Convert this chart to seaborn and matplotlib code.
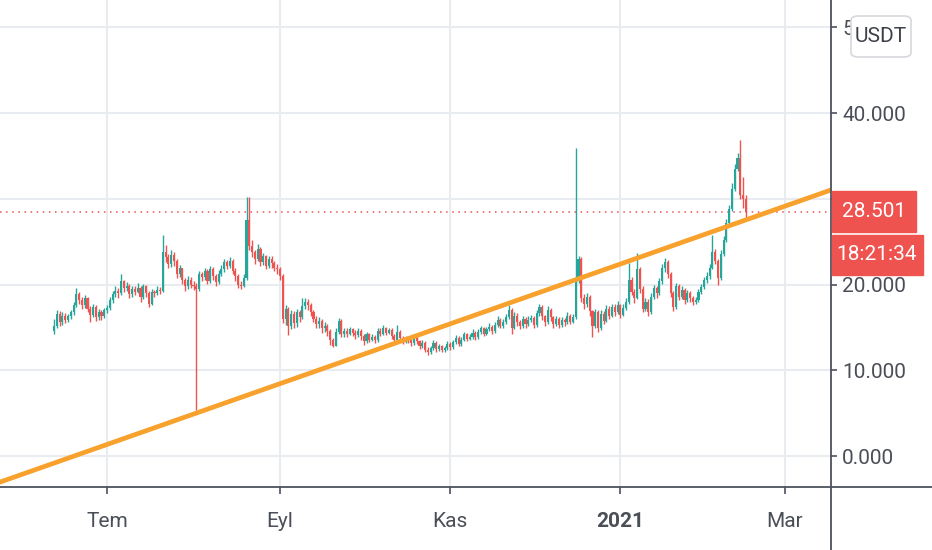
import pandas as pd
import seaborn as sns
import matplotlib
matplotlib.use("Agg")
import matplotlib.pyplot as plt
import matplotlib.dates as mdates
from matplotlib.lines import Line2D
from matplotlib.patches import Rectangle, FancyBboxPatch

# daily candles, first day 2020-06-12, open of each day = close of the previous one
start_day = "2020-06-12"
first_open = 14.6
closes = [
    15.2, 16.6, 15.6, 16.4, 15.9, 16.3, 16.8, 17.6, 18.9, 18.2,
    17.6, 18.4, 17.2, 16.5, 17.4, 16.2, 16.8, 16.4, 17.0, 17.3,
    18.2, 18.9, 19.3, 19.0, 20.4, 19.6, 19.9, 18.9, 19.5, 19.2,
    19.6, 18.6, 19.8, 19.0, 17.8, 19.2, 19.0, 19.4, 19.3, 23.8,
    23.2, 22.4, 23.5, 22.8, 21.2, 21.9, 20.5, 19.8, 20.6, 20.0,
    19.8, 19.5, 21.2, 20.9, 21.6, 20.4, 21.8, 21.0, 20.3, 21.3,
    21.8, 22.6, 22.2, 22.8, 21.6, 21.0, 20.0, 19.9, 20.8, 27.5,
    24.5, 23.8, 23.0, 24.2, 22.6, 23.3, 22.2, 23.0, 22.5, 22.0,
    21.8, 21.0, 16.0, 17.2, 15.2, 16.6, 15.5, 16.8, 16.2, 17.5,
    18.0, 17.6, 16.8, 16.0, 15.4, 15.8, 14.9, 15.2, 14.6, 13.5,
    12.9, 14.5, 15.8, 14.2, 14.6, 14.3, 14.8, 14.4, 14.1, 14.6,
    14.0, 13.4, 14.2, 13.6, 13.9, 13.5, 14.6, 14.3, 14.9, 14.4,
    14.7, 14.0, 13.6, 14.5, 13.8, 13.4, 13.7, 13.5, 13.2, 13.9,
    13.4, 12.8, 13.2, 12.4, 12.1, 12.6, 13.2, 12.5, 12.8, 12.4,
    12.6, 13.1, 12.7, 13.3, 13.8, 13.1, 13.6, 14.2, 13.7, 13.9,
    14.4, 13.9, 14.5, 14.9, 14.3, 14.8, 15.1, 14.6, 15.3, 15.9,
    15.2, 15.6, 16.2, 17.1, 15.0, 16.4, 15.6, 15.2, 16.0, 15.4,
    15.9, 16.1, 15.3, 16.7, 17.4, 16.3, 15.6, 17.1, 16.2, 15.4,
    16.0, 15.3, 15.9, 15.6, 16.4, 15.7, 16.2, 20.5, 23.0, 18.5,
    17.8, 18.6, 16.9, 15.2, 16.8, 14.9, 16.6, 15.8, 17.2, 16.4,
    17.4, 16.8, 17.6, 16.5, 17.3, 18.0, 20.6, 19.2, 18.5, 21.8,
    19.5, 17.2, 18.0, 16.8, 18.6, 19.6, 19.0, 20.4, 21.9, 22.6,
    21.2, 19.0, 17.4, 19.8, 18.6, 19.4, 18.2, 19.0, 18.4, 18.0,
    18.2, 19.1, 19.7, 20.5, 21.0, 22.0, 23.8, 22.8, 20.8, 23.6,
    25.2, 27.2, 28.8, 31.2, 33.5, 34.8, 30.5, 30.0, 28.501,
]
highs = [
    16.0, 17.0, 16.9, 16.8, 16.7, 16.6, 17.1, 18.0, 19.6, 19.2,
    18.6, 18.8, 18.6, 17.5, 17.8, 17.6, 17.2, 17.0, 17.3, 17.6,
    18.6, 19.3, 19.8, 19.6, 21.3, 20.6, 20.3, 20.1, 19.9, 19.8,
    20.2, 19.9, 20.1, 20.0, 19.3, 19.5, 19.4, 19.8, 19.7, 25.8,
    24.6, 23.6, 24.0, 23.8, 23.0, 22.3, 22.0, 20.8, 21.0, 20.9,
    20.4, 20.2, 21.6, 21.5, 22.0, 21.8, 22.2, 22.1, 21.3, 21.7,
    22.3, 23.0, 22.9, 23.2, 23.0, 21.9, 21.2, 20.4, 21.2, 30.2,
    30.2, 25.2, 24.1, 24.7, 24.4, 23.7, 23.5, 23.4, 23.3, 22.8,
    22.4, 22.1, 21.2, 17.6, 17.4, 17.0, 16.9, 17.2, 17.1, 18.5,
    18.4, 18.3, 17.9, 17.1, 16.3, 16.2, 16.0, 15.6, 15.4, 14.8,
    13.8, 14.9, 16.1, 16.0, 15.0, 14.9, 15.1, 15.0, 14.7, 14.9,
    14.8, 14.2, 14.5, 14.4, 14.2, 14.1, 14.9, 14.9, 15.3, 15.1,
    15.0, 14.9, 14.2, 15.3, 14.7, 14.0, 14.0, 13.9, 13.7, 14.2,
    14.1, 13.6, 13.5, 13.4, 12.7, 12.9, 13.5, 13.4, 13.1, 13.0,
    12.9, 13.4, 13.3, 13.6, 14.1, 14.0, 13.9, 14.5, 14.4, 14.2,
    14.8, 14.6, 14.8, 15.2, 15.1, 15.1, 15.5, 15.3, 15.6, 16.3,
    16.1, 16.0, 16.6, 17.6, 17.3, 16.8, 16.7, 15.9, 16.4, 16.2,
    16.3, 16.5, 16.3, 17.0, 17.8, 17.6, 16.5, 17.5, 17.3, 16.4,
    16.4, 16.2, 16.2, 16.1, 16.8, 16.6, 16.6, 35.9, 23.4, 23.2,
    18.9, 19.0, 18.8, 17.1, 17.2, 17.0, 17.0, 16.9, 17.6, 17.5,
    17.8, 17.7, 18.1, 17.8, 17.7, 18.4, 22.5, 20.9, 19.5, 23.7,
    22.1, 19.8, 18.5, 18.3, 19.0, 20.0, 19.9, 20.8, 22.4, 23.1,
    22.9, 21.5, 19.3, 20.2, 20.1, 19.8, 19.6, 19.4, 19.3, 18.7,
    18.6, 19.5, 20.1, 20.9, 21.5, 22.4, 25.8, 24.2, 23.0, 24.0,
    25.7, 27.7, 29.3, 31.8, 34.1, 35.4, 36.9, 32.6, 30.4,
]
lows = [
    14.3, 14.9, 15.2, 15.3, 15.5, 15.6, 16.0, 16.5, 17.4, 17.8,
    17.2, 17.3, 16.8, 15.7, 16.2, 15.8, 15.9, 15.9, 16.1, 16.7,
    17.0, 17.9, 18.6, 18.5, 18.8, 19.2, 19.3, 18.4, 18.6, 18.8,
    19.0, 18.0, 18.3, 18.6, 17.4, 17.6, 18.6, 18.8, 18.9, 19.1,
    22.6, 21.9, 22.1, 22.2, 20.8, 20.9, 20.1, 19.3, 19.5, 19.6,
    19.4, 5.4, 19.3, 20.4, 20.6, 20.1, 20.2, 20.6, 19.9, 20.1,
    21.0, 21.5, 21.8, 21.9, 21.2, 20.4, 19.6, 19.5, 19.7, 20.6,
    24.0, 23.2, 22.4, 22.8, 22.2, 22.3, 21.8, 21.9, 22.0, 21.6,
    21.3, 20.6, 15.5, 15.3, 14.1, 14.8, 14.9, 15.1, 15.7, 16.0,
    17.2, 17.1, 16.4, 15.6, 14.9, 15.0, 14.4, 14.5, 14.0, 13.0,
    12.7, 12.8, 14.3, 13.9, 13.9, 13.9, 14.1, 14.0, 13.7, 13.9,
    13.6, 13.0, 13.2, 13.3, 13.4, 13.2, 13.3, 14.0, 14.1, 14.1,
    14.2, 13.7, 13.3, 13.4, 13.5, 13.1, 13.2, 13.2, 12.9, 13.0,
    13.1, 12.5, 12.6, 12.1, 11.8, 11.9, 12.4, 12.2, 12.3, 12.1,
    12.2, 12.4, 12.4, 12.5, 13.1, 12.8, 12.9, 13.4, 13.4, 13.5,
    13.7, 13.6, 13.7, 14.3, 14.0, 14.1, 14.6, 14.3, 14.4, 15.1,
    14.9, 15.0, 15.4, 16.0, 14.3, 14.8, 15.2, 14.8, 15.0, 15.0,
    15.2, 15.6, 14.9, 15.1, 16.4, 15.9, 15.2, 15.4, 15.8, 15.0,
    15.2, 14.9, 15.1, 15.2, 15.4, 15.4, 15.5, 16.0, 20.2, 18.0,
    17.2, 17.4, 16.4, 13.9, 15.0, 14.5, 14.7, 15.4, 15.6, 16.0,
    16.2, 16.4, 16.6, 16.1, 16.3, 17.0, 17.8, 18.8, 17.9, 18.3,
    19.0, 16.8, 16.9, 16.3, 16.6, 18.3, 18.5, 18.8, 20.1, 21.5,
    20.8, 18.6, 16.9, 17.2, 18.2, 18.3, 17.8, 18.0, 18.0, 17.6,
    17.7, 18.0, 18.9, 19.5, 20.2, 20.7, 21.8, 22.4, 20.0, 20.6,
    23.4, 25.0, 27.0, 28.6, 30.9, 33.2, 30.0, 28.9, 27.6,
]

trend_dates = ["2020-05-23", "2021-03-18"]
trend_vals = [-3.1, 31.1]

last_price = 28.501
countdown = "18:21:34"
currency = "USDT"

price_ticks = [0, 10, 20, 30, 40, 50]
month_ticks = ["2020-07-01", "2020-09-01", "2020-11-01", "2021-01-01", "2021-03-01"]
month_labels = ["Tem", "Eyl", "Kas", "2021", "Mar"]

UP = "#26a69a"
DOWN = "#ef5350"
GRID = "#e8ecf0"
AXIS = "#4c525e"
TXT = "#4a4e57"

opens = [first_open] + closes[:-1]
df = pd.DataFrame({
    "date": pd.date_range(start_day, periods=len(closes), freq="D"),
    "open": opens, "high": highs, "low": lows, "close": closes,
})
df["x"] = mdates.date2num(df["date"])
df["color"] = [UP if c >= o else DOWN for o, c in zip(df["open"], df["close"])]

sns.set_style("white")
plt.rcParams["font.family"] = ["Roboto", "DejaVu Sans"]

W, H = 932, 550
fig = plt.figure(figsize=(W / 100, H / 100), dpi=100)
ax = fig.add_axes([0, 63 / H, 831 / W, 487 / H])

# candles
ax.vlines(df["x"], df["low"], df["high"], colors=df["color"], lw=1.0, zorder=3)
ax.bar(df["x"], df["close"] - df["open"], bottom=df["open"], width=0.75,
       color=df["color"], linewidth=0, zorder=3)

# trend line
tl = pd.DataFrame({"date": mdates.date2num(pd.to_datetime(trend_dates)), "v": trend_vals})
sns.lineplot(data=tl, x="date", y="v", ax=ax, color="#f8a12c", lw=3.4,
             zorder=5, solid_capstyle="butt")

ax.axhline(last_price, color=DOWN, ls=(0, (1, 3)), lw=1.1, zorder=2)

ax.set_xlim(mdates.date2num(pd.Timestamp("2020-05-23 15:00")),
            mdates.date2num(pd.Timestamp("2021-03-17 12:00")))
ax.set_ylim(-3.6, 53.2)

ax.set_yticks(price_ticks)
ax.set_yticklabels([f"{v:.3f}" for v in price_ticks])
ax.yaxis.tick_right()
ax.set_xticks(mdates.date2num(pd.to_datetime(month_ticks)))
ax.set_xticklabels(month_labels)
for lab in ax.get_xticklabels():
    if lab.get_text().isdigit():
        lab.set_fontweight("bold")

ax.grid(True, color=GRID, lw=1.5, zorder=0)
ax.set_axisbelow(True)
ax.set_xlabel("")
ax.set_ylabel("")
for s in ax.spines.values():
    s.set_visible(False)
ax.tick_params(axis="y", right=True, left=False, length=4, width=1.2, color=AXIS,
               labelsize=15, labelcolor=TXT, pad=4)
ax.tick_params(axis="x", bottom=True, length=5, width=1.2, color=AXIS,
               labelsize=15, labelcolor=TXT, pad=13)

# price scale / time scale separators
fig.add_artist(Line2D([831 / W, 831 / W], [0, 1], transform=fig.transFigure,
                      color=AXIS, lw=1.3))
fig.add_artist(Line2D([0, 1], [63 / H, 63 / H], transform=fig.transFigure,
                      color=AXIS, lw=1.3))

# last price and countdown labels (they sit over the 30.000 label, as on the chart)
fig.canvas.draw()
py = ax.transData.transform((0, last_price))[1] / H
fig.add_artist(Rectangle((832 / W, py - 20 / H), 84 / W, 41 / H,
                         transform=fig.transFigure, color=DOWN, zorder=6))
fig.text(874 / W, py, f"{last_price:.3f}", color="white", fontsize=15,
         ha="center", va="center", zorder=7)
fig.add_artist(Rectangle((832 / W, py - 63 / H), 91 / W, 40 / H,
                         transform=fig.transFigure, color=DOWN, zorder=6))
fig.text(877 / W, py - 43 / H, countdown, color="white", fontsize=15,
         ha="center", va="center", zorder=7)

# currency badge, drawn over the top price label
fig.add_artist(FancyBboxPatch((851 / W, 1 - 57 / H), 60 / W, 41 / H,
                              boxstyle="round,pad=0,rounding_size=0.008",
                              transform=fig.transFigure, facecolor="white",
                              edgecolor="#d5d8dd", lw=1.2, zorder=6))
fig.text(881 / W, 1 - 36 / H, currency, color="#3c4049", fontsize=15,
         ha="center", va="center", zorder=7)

fig.savefig("out.png", dpi=100)
